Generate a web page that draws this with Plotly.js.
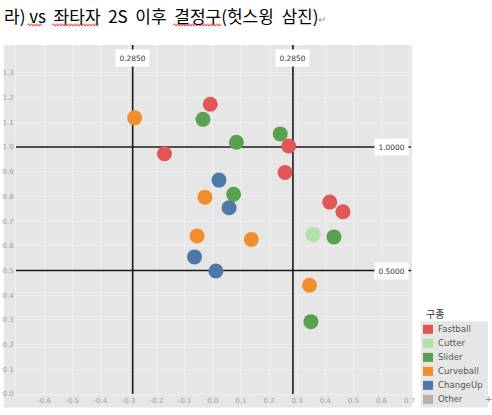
<!DOCTYPE html>
<html>
<head>
<meta charset="utf-8">
<script src="https://cdn.plot.ly/plotly-3.0.1.min.js"></script>
<style>html,body{margin:0;padding:0;background:#fff;}#chart{width:492px;height:415px;}</style>
</head>
<body>
<div id="chart"></div>
<script>
// ---- data ----
const categories = ['Fastball', 'Cutter', 'Slider', 'Curveball', 'ChangeUp', 'Other'];
const fastballX = [-0.009, 0.270, 0.257, 0.416, 0.463, -0.172];
const fastballY = [1.173, 1.004, 0.897, 0.777, 0.738, 0.973];
const cutterX = [0.357];
const cutterY = [0.646];
const sliderX = [-0.035, 0.240, 0.084, 0.074, 0.431, 0.349];
const sliderY = [1.112, 1.053, 1.019, 0.809, 0.636, 0.293];
const curveballX = [-0.278, -0.028, -0.056, 0.137, 0.344];
const curveballY = [1.118, 0.797, 0.640, 0.626, 0.440];
const changeupX = [0.022, 0.058, -0.065, 0.011];
const changeupY = [0.866, 0.754, 0.555, 0.498];
const otherX = [];
const otherY = [];
const refLineX = [-0.285, 0.285];
const refLineXLabels = ['0.2850', '0.2850'];
const refLineY = [1.0, 0.5];
const refLineYLabels = ['1.0000', '0.5000'];
const xTickVals = [-0.6, -0.5, -0.4, -0.3, -0.2, -0.1, 0.0, 0.1, 0.2, 0.3, 0.4, 0.5, 0.6, 0.7];
const xTickText = ['-0.6', '-0.5', '-0.4', '-0.3', '-0.2', '-0.1', '0.0', '0.1', '0.2', '0.3', '0.4', '0.5', '0.6', '0.7'];
const yTickVals = [0.0, 0.1, 0.2, 0.3, 0.4, 0.5, 0.6, 0.7, 0.8, 0.9, 1.0, 1.1, 1.2, 1.3];
const yTickText = ['0.0', '0.1', '0.2', '0.3', '0.4', '0.5', '0.6', '0.7', '0.8', '0.9', '1.0', '1.1', '1.2', '1.3'];
const legendTitle = '구종';
const titleText = '라) vs  좌타자  2S  이후  결정구(헛스윙  삼진)';

// ---- style ----
const colorMap = {
  Fastball: '#e15759', Cutter: '#b3e0a6', Slider: '#59a14f',
  Curveball: '#f28e2b', ChangeUp: '#4e79a7', Other: '#bab0ac'
};
const seriesData = {
  Fastball: [fastballX, fastballY], Cutter: [cutterX, cutterY], Slider: [sliderX, sliderY],
  Curveball: [curveballX, curveballY], ChangeUp: [changeupX, changeupY], Other: [otherX, otherY]
};
const XR = [-0.7, 0.705], YR = [0, 1.413];
const L = 16, R = 411, T = 45, B = 393.6;
const px = x => (x - L) / (R - L);
const py = y => (B - y) / (B - T);
const BG = '#e6e6e6';

const traces = [];
// reference lines as line traces (drawn above gridlines, below markers)
refLineX.forEach(v => traces.push({type: 'scatter', mode: 'lines', x: [v, v], y: YR,
  line: {color: '#1a1a1a', width: 1.6}, showlegend: false, hoverinfo: 'skip', cliponaxis: true}));
refLineY.forEach(v => traces.push({type: 'scatter', mode: 'lines', x: XR, y: [v, v],
  line: {color: '#1a1a1a', width: 1.6}, showlegend: false, hoverinfo: 'skip', cliponaxis: true}));
categories.forEach(c => traces.push({
  type: 'scatter', mode: 'markers', name: c,
  x: seriesData[c][0], y: seriesData[c][1],
  marker: {color: colorMap[c], size: 15, line: {width: 0}},
  showlegend: false, hoverinfo: 'skip'
}));

const shapes = [];
// outer grey panel (includes axis labels)
shapes.push({type: 'rect', xref: 'paper', yref: 'paper', x0: px(4), x1: px(412), y0: py(407), y1: py(45),
  fillcolor: BG, line: {width: 0}, layer: 'below'});

// wavy underlines (spell-check marks in title)
function wavy(x0, x1, y) {
  let d = 'M' + px(x0) + ',' + py(y);
  let up = true;
  for (let x = x0 + 1.5; x <= x1; x += 1.5) {
    d += ' L' + px(x) + ',' + py(y + (up ? -1.2 : 1.2));
    up = !up;
  }
  return {type: 'path', xref: 'paper', yref: 'paper', path: d, line: {color: '#e02020', width: 0.8}, layer: 'above'};
}
[[27, 42], [52, 99], [173, 222]].forEach(s => shapes.push(wavy(s[0], s[1], 25)));

// legend box
shapes.push({type: 'rect', xref: 'paper', yref: 'paper', x0: px(421), x1: px(488), y0: py(321), y1: py(303),
  fillcolor: '#ffffff', line: {width: 0}, layer: 'above'});
shapes.push({type: 'rect', xref: 'paper', yref: 'paper', x0: px(421), x1: px(488), y0: py(407), y1: py(321),
  fillcolor: BG, line: {width: 0}, layer: 'above'});
const annotations = [];
annotations.push({xref: 'paper', yref: 'paper', x: px(424), y: py(313), xanchor: 'left', yanchor: 'middle',
  text: legendTitle, showarrow: false, font: {family: 'Noto Sans CJK KR', size: 10, color: '#333'}});
categories.forEach((c, i) => {
  const cy = 329 + i * 14;
  shapes.push({type: 'rect', xref: 'paper', yref: 'paper', x0: px(423), x1: px(433), y0: py(cy + 4.5), y1: py(cy - 4.5),
    fillcolor: colorMap[c], line: {width: 0}, layer: 'above'});
  annotations.push({xref: 'paper', yref: 'paper', x: px(436), y: py(cy), xanchor: 'left', yanchor: 'middle',
    text: c, showarrow: false, font: {family: 'DejaVu Sans', size: 8.6, color: '#555'}});
});

// reference line labels
refLineX.forEach((v, i) => annotations.push({xref: 'x', yref: 'paper', x: v, y: py(49), yanchor: 'top', xanchor: 'center',
  text: refLineXLabels[i], showarrow: false, bgcolor: '#ffffff', borderpad: 3.5,
  font: {family: 'DejaVu Sans', size: 7.4, color: '#333'}}));
refLineY.forEach((v, i) => annotations.push({xref: 'paper', yref: 'y', x: px(408.5), y: v, xanchor: 'right', yanchor: 'middle',
  text: refLineYLabels[i], showarrow: false, bgcolor: '#ffffff', borderpad: 3.5,
  font: {family: 'DejaVu Sans', size: 7.4, color: '#333'}}));

// title
annotations.push({xref: 'paper', yref: 'paper', x: px(2), y: py(16), xanchor: 'left', yanchor: 'middle',
  text: titleText + '<span style="font-size:10px;color:#999">↵</span>', showarrow: false,
  font: {family: 'Noto Sans CJK KR', size: 17, color: '#000'}});
// table handle mark
annotations.push({xref: 'paper', yref: 'paper', x: px(489), y: py(399), xanchor: 'center', yanchor: 'middle',
  text: '+', showarrow: false, font: {family: 'DejaVu Sans', size: 9, color: '#777'}});

const axisCommon = {
  showgrid: true, gridcolor: '#efefef', gridwidth: 1, zeroline: false,
  showline: true, linecolor: '#efefef', linewidth: 1, ticks: '',
  tickfont: {family: 'DejaVu Sans', size: 7, color: '#a0a0a0'}, fixedrange: true
};
const layout = {
  width: 492, height: 415,
  margin: {l: L, r: 492 - R, t: T, b: 415 - B, pad: 0},
  paper_bgcolor: '#ffffff', plot_bgcolor: BG,
  xaxis: Object.assign({}, axisCommon, {range: XR, tickmode: 'array', tickvals: xTickVals, ticktext: xTickText}),
  yaxis: Object.assign({}, axisCommon, {range: YR, tickmode: 'array', tickvals: yTickVals, ticktext: yTickText}),
  shapes: shapes, annotations: annotations, showlegend: false
};
Plotly.newPlot('chart', traces, layout, {staticPlot: true, displayModeBar: false});
</script>
</body>
</html>
